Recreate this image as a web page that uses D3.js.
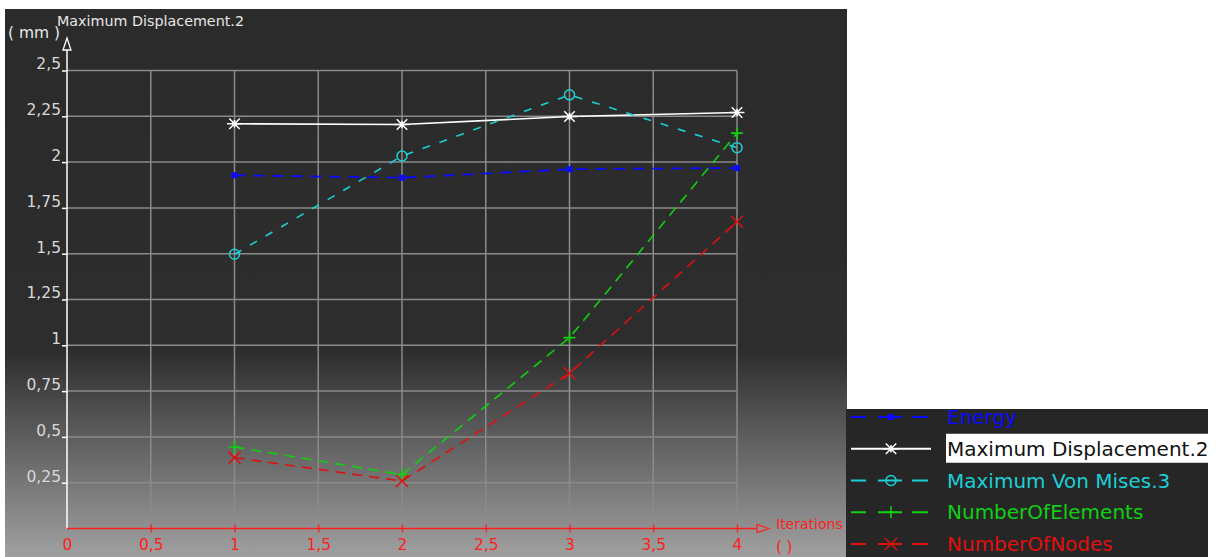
<!DOCTYPE html>
<html>
<head>
<meta charset="utf-8">
<script src="https://cdn.jsdelivr.net/npm/d3@7"></script>
<style>
  html, body { margin: 0; padding: 0; background: #ffffff; }
  svg { display: block; }
  text { font-family: "DejaVu Sans", Verdana, sans-serif; }
</style>
</head>
<body>
<svg id="chart" width="1218" height="557"></svg>
<script>
// Iteration steps and the series plotted against them
const iterations = [1, 2, 3, 4];
const energy = [1.928, 1.915, 1.961, 1.968];
const maxDisplacement = [2.209, 2.205, 2.249, 2.271];
const maxVonMises = [1.497, 2.033, 2.367, 2.079];
const numberOfElements = [0.445, 0.294, 1.042, 2.158];
const numberOfNodes = [0.387, 0.259, 0.847, 1.674];

const seriesNames = ["Energy", "Maximum Displacement.2", "Maximum Von Mises.3", "NumberOfElements", "NumberOfNodes"];
const xTickValues = [0, 0.5, 1, 1.5, 2, 2.5, 3, 3.5, 4];
const xTickLabels = ["0", "0,5", "1", "1,5", "2", "2,5", "3", "3,5", "4"];
const yTickValues = [0.25, 0.5, 0.75, 1, 1.25, 1.5, 1.75, 2, 2.25, 2.5];
const yTickLabels = ["0,25", "0,5", "0,75", "1", "1,25", "1,5", "1,75", "2", "2,25", "2,5"];

const svg = d3.select("#chart");

// Panel background: flat dark grey fading to lighter grey at the bottom
const defs = svg.append("defs");
const grad = defs.append("linearGradient")
  .attr("id", "bg").attr("gradientUnits", "userSpaceOnUse")
  .attr("x1", 0).attr("y1", 9).attr("x2", 0).attr("y2", 557);
grad.append("stop").attr("offset", 0).attr("stop-color", "#2b2b2b");
grad.append("stop").attr("offset", (350 - 9) / 548).attr("stop-color", "#2d2d2d");
grad.append("stop").attr("offset", 1).attr("stop-color", "#a0a0a0");

svg.append("rect").attr("x", 5).attr("y", 9).attr("width", 842).attr("height", 548)
  .attr("fill", "url(#bg)");

const x = d3.scaleLinear().domain([0, 4]).range([67, 737]);
const y = d3.scaleLinear().domain([0, 2.5]).range([528.5, 70.5]);

// Grid
const grid = svg.append("g").attr("stroke", "#8a8a8a").attr("stroke-width", 1.5);
grid.selectAll("line.v").data(xTickValues.filter(v => v > 0)).join("line")
  .attr("class", "v")
  .attr("x1", d => x(d)).attr("x2", d => x(d))
  .attr("y1", y(0)).attr("y2", y(2.5));
grid.selectAll("line.h").data(yTickValues).join("line")
  .attr("class", "h")
  .attr("x1", x(0)).attr("x2", x(4))
  .attr("y1", d => y(d)).attr("y2", d => y(d));

// Y axis (white) with hollow arrow head
const yAxis = d3.axisLeft(y).tickValues(yTickValues)
  .tickFormat((d, i) => yTickLabels[i]).tickSize(5).tickPadding(1);
const gy = svg.append("g").attr("transform", `translate(${x(0)},0)`).call(yAxis);
gy.select(".domain").remove();
gy.selectAll(".tick line").attr("stroke", "#ffffff").attr("stroke-width", 1.5);
gy.selectAll(".tick text").attr("fill", "#d8d8d8").attr("font-size", 15.5)
  .attr("dy", "-0.1em");
svg.append("line").attr("x1", x(0)).attr("x2", x(0)).attr("y1", y(0)).attr("y2", 50)
  .attr("stroke", "#ffffff").attr("stroke-width", 1.5);
svg.append("path").attr("d", `M${x(0)},38 L${x(0) - 4},50 L${x(0) + 4},50 Z`)
  .attr("fill", "none").attr("stroke", "#ffffff").attr("stroke-width", 1.3);

svg.append("text").attr("x", 8).attr("y", 38).attr("fill", "#e6e6e6")
  .attr("font-size", 15.5).text("( mm )");
svg.append("text").attr("x", 57).attr("y", 26).attr("fill", "#e6e6e6")
  .attr("font-size", 14.5).attr("textLength", 187).attr("lengthAdjust", "spacingAndGlyphs")
  .text("Maximum Displacement.2");

// X axis (red) with hollow arrow head
const xAxis = d3.axisBottom(x).tickValues(xTickValues)
  .tickFormat((d, i) => xTickLabels[i]).tickSizeInner(0).tickSizeOuter(0).tickPadding(10);
const gx = svg.append("g").attr("transform", `translate(0,${y(0)})`).call(xAxis);
gx.select(".domain").remove();
gx.selectAll(".tick text").attr("fill", "#ff2020").attr("font-size", 15.5);
gx.selectAll(".tick").filter(d => d > 0).append("line")
  .attr("y1", -4).attr("y2", 4).attr("stroke", "#ff2020").attr("stroke-width", 1.3);
svg.append("line").attr("x1", x(0)).attr("x2", 757).attr("y1", y(0)).attr("y2", y(0))
  .attr("stroke", "#ff2020").attr("stroke-width", 1.5);
svg.append("path").attr("d", `M769,${y(0)} L757,${y(0) - 4} L757,${y(0) + 4} Z`)
  .attr("fill", "none").attr("stroke", "#ff2020").attr("stroke-width", 1.3);
svg.append("text").attr("x", 776).attr("y", 529).attr("fill", "#ff2020")
  .attr("font-size", 14).text("Iterations");
svg.append("text").attr("x", 776).attr("y", 552).attr("fill", "#ff2020")
  .attr("font-size", 15).text("(  )");

// Marker shapes
function drawMarker(g, kind, cx, cy, color) {
  if (kind === "square") {
    g.append("rect").attr("x", cx - 3).attr("y", cy - 3).attr("width", 6).attr("height", 6)
      .attr("fill", color);
  } else if (kind === "star") {
    const r = 7.5;
    g.append("path")
      .attr("d", `M${cx - r},${cy} L${cx + r},${cy} M${cx - r * 0.7},${cy - r * 0.7} L${cx + r * 0.7},${cy + r * 0.7} M${cx - r * 0.7},${cy + r * 0.7} L${cx + r * 0.7},${cy - r * 0.7} M${cx},${cy - r * 0.5} L${cx},${cy + r * 0.5}`)
      .attr("stroke", color).attr("stroke-width", 1.5).attr("fill", "none");
    g.append("circle").attr("cx", cx).attr("cy", cy).attr("r", 2.2).attr("fill", color);
  } else if (kind === "circle") {
    g.append("circle").attr("cx", cx).attr("cy", cy).attr("r", 5)
      .attr("fill", "none").attr("stroke", color).attr("stroke-width", 1.5);
  } else if (kind === "plus") {
    const r = 6;
    g.append("path").attr("d", `M${cx - r},${cy} L${cx + r},${cy} M${cx},${cy - r} L${cx},${cy + r}`)
      .attr("stroke", color).attr("stroke-width", 1.6).attr("fill", "none");
  } else if (kind === "cross") {
    const r = 6;
    g.append("path").attr("d", `M${cx - r},${cy - r} L${cx + r},${cy + r} M${cx - r},${cy + r} L${cx + r},${cy - r}`)
      .attr("stroke", color).attr("stroke-width", 1.5).attr("fill", "none");
  }
}

const series = [
  { name: seriesNames[0], values: energy, color: "#0a0aff", dash: "11,8", marker: "square", width: 1.8 },
  { name: seriesNames[1], values: maxDisplacement, color: "#ffffff", dash: null, marker: "star", width: 1.6 },
  { name: seriesNames[2], values: maxVonMises, color: "#1ad0d6", dash: "8,10", marker: "circle", width: 1.6 },
  { name: seriesNames[3], values: numberOfElements, color: "#10d010", dash: "10,7", marker: "plus", width: 1.6 },
  { name: seriesNames[4], values: numberOfNodes, color: "#e01010", dash: "10,7", marker: "cross", width: 1.6 }
];

const line = d3.line().x((d, i) => x(iterations[i])).y(d => y(d));
const plot = svg.append("g");
series.forEach(s => {
  plot.append("path").datum(s.values).attr("d", line)
    .attr("fill", "none").attr("stroke", s.color).attr("stroke-width", s.width)
    .attr("stroke-dasharray", s.dash);
});
series.forEach(s => {
  const g = plot.append("g");
  s.values.forEach((v, i) => drawMarker(g, s.marker, x(iterations[i]), y(v), s.color));
});

// Legend panel
defs.append("clipPath").attr("id", "legclip").append("rect")
  .attr("x", 846).attr("y", 409).attr("width", 362).attr("height", 148);
const leg = svg.append("g").attr("clip-path", "url(#legclip)");
leg.append("rect").attr("x", 846).attr("y", 409).attr("width", 362).attr("height", 148)
  .attr("fill", "#262626");
const rowY = d3.scalePoint().domain(seriesNames).range([417, 544]);
series.forEach((s, i) => {
  const cy = rowY(s.name);
  const g = leg.append("g");
  if (s.dash) {
    g.append("line").attr("x1", 851).attr("x2", 866).attr("y1", cy).attr("y2", cy)
      .attr("stroke", s.color).attr("stroke-width", 2);
    g.append("line").attr("x1", 878).attr("x2", 902).attr("y1", cy).attr("y2", cy)
      .attr("stroke", s.color).attr("stroke-width", 2);
    g.append("line").attr("x1", 912).attr("x2", 928).attr("y1", cy).attr("y2", cy)
      .attr("stroke", s.color).attr("stroke-width", 2);
  } else {
    g.append("line").attr("x1", 851).attr("x2", 931).attr("y1", cy).attr("y2", cy)
      .attr("stroke", s.color).attr("stroke-width", 1.8);
  }
  drawMarker(g, s.marker, 891, cy, s.color);
  if (i === 1) {
    g.append("rect").attr("x", 946).attr("y", cy - 15).attr("width", 262).attr("height", 29)
      .attr("fill", "#ffffff");
  }
  g.append("text").attr("x", 947).attr("y", cy + 7).attr("font-size", 20)
    .attr("fill", i === 1 ? "#111111" : s.color)
    .text(s.name);
});
</script>
</body>
</html>
